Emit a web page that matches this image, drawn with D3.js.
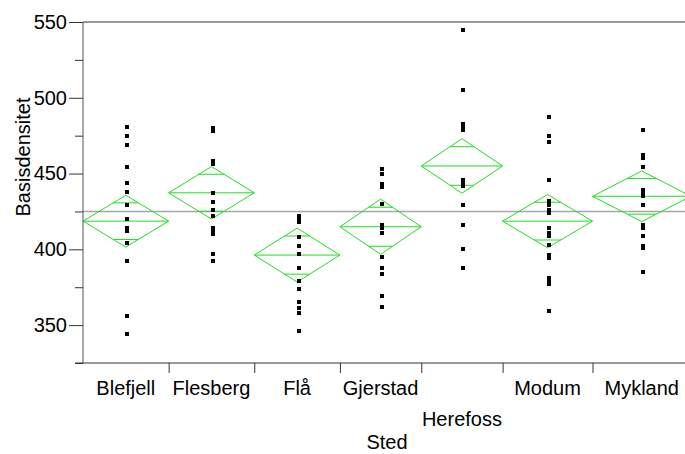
<!DOCTYPE html>
<html>
<head>
    <title></title>
    <script src="https://d3js.org/d3.v7.min.js"></script>
    <style type="text/css">
        html, body { margin: 0; padding: 0; background: #fff; }
        text { font-family: "Liberation Sans", Arial, sans-serif; fill: #000; }
    </style>
</head>
<body>
    <svg id="main"></svg>
    <script>
      // settings
      const width  = 685;
      const height = 454;
      const LEFT   = 83;
      const RIGHT  = 691;   // plot runs a bit past the picture edge
      const TOP    = 22;
      const BOTTOM = 363;
      const GREEN  = "#1ee01e";

      // data
      const sites    = ["Blefjell", "Flesberg", "Flå", "Gjerstad", "Herefoss", "Modum", "Mykland"];
      const counts   = [20, 20, 20, 19, 19, 21, 23];
      const means    = [418.6, 437.3, 396.2, 414.9, 455, 418.6, 435];
      const ciHalf   = [17.1, 17.3, 17.8, 18.2, 18, 17.6, 16.7];
      const grandMean = 425;
      const points = [
        [481, 475, 469, 454, 444, 438, 429, 420, 414, 412, 404, 392, 356, 344],
        [480, 478, 458, 456, 437, 431, 426, 422, 414, 412, 410, 397, 392],
        [422, 420, 418, 408, 402, 397, 388, 379, 374, 365, 361, 358, 346],
        [453, 450, 443, 441, 430, 416, 414, 411, 395, 388, 384, 369, 362],
        [545, 505, 483, 481, 479, 446, 444, 442, 429, 416, 400, 388],
        [487, 475, 471, 446, 432, 429, 426, 424, 414, 411, 409, 403, 396, 394, 381, 379, 377, 359],
        [479, 462, 460, 454, 439, 437, 435, 429, 416, 414, 409, 402, 401, 385]
      ];
      const majorTicks = [350, 400, 450, 500, 550];
      const minorTicks = [325, 375, 425, 475, 525];

      // group boundaries (width by sample size)
      const cum = [0];
      counts.forEach(c => cum.push(cum[cum.length - 1] + c));
      const groups = sites.map((s, i) => ({
        site: s, i: i, lo: cum[i], hi: cum[i + 1],
        mean: means[i], ci: ciHalf[i], pts: points[i]
      }));

      const x = d3.scaleLinear().domain([0, cum[cum.length - 1]]).range([LEFT, RIGHT]);
      const y = d3.scaleLinear().domain([325, 550]).range([BOTTOM, TOP]);

      const svg = d3.select("#main").attr("width", width).attr("height", height);

      // grand mean
      svg.append("line")
        .attr("x1", LEFT).attr("x2", RIGHT)
        .attr("y1", y(grandMean)).attr("y2", y(grandMean))
        .attr("stroke", "#a6a6a6").attr("stroke-width", 1.5);

      // diamonds
      const k = 1 - 1 / Math.SQRT2;
      const dg = svg.append("g").attr("fill", "none").attr("stroke", GREEN).attr("stroke-width", 1);
      groups.forEach(g => {
        const x0 = x(g.lo), x1 = x(g.hi), xc = (x0 + x1) / 2, hw = (x1 - x0) / 2;
        dg.append("path")
          .attr("d", d3.line()([[x0, y(g.mean)], [xc, y(g.mean + g.ci)], [x1, y(g.mean)], [xc, y(g.mean - g.ci)]]) + "Z");
        dg.append("line").attr("x1", x0).attr("x2", x1)
          .attr("y1", y(g.mean)).attr("y2", y(g.mean));
        [1, -1].forEach(s => {
          const v = g.mean + s * g.ci / Math.SQRT2;
          dg.append("line")
            .attr("x1", xc - hw * k).attr("x2", xc + hw * k)
            .attr("y1", y(v)).attr("y2", y(v));
        });
      });

      // points
      groups.forEach(g => {
        const xc = (x(g.lo) + x(g.hi)) / 2;
        svg.append("g").selectAll("rect")
          .data(g.pts)
          .enter()
          .append("rect")
          .attr("x", xc - 0.5)
          .attr("y", d => y(d) - 2)
          .attr("width", 4).attr("height", 4)
          .attr("fill", "#000")
          .attr("shape-rendering", "crispEdges");
      });

      // frame
      svg.append("line").attr("x1", LEFT).attr("x2", width)
        .attr("y1", TOP).attr("y2", TOP).attr("stroke", "#333");

      // y axis
      const yAxis = svg.append("g").attr("transform", `translate(${LEFT},0)`)
        .call(d3.axisLeft(y).tickValues(majorTicks).tickSize(14).tickPadding(2).tickFormat(d3.format("d")));
      yAxis.select(".domain").remove();
      yAxis.selectAll("text").style("font-size", "20px").attr("fill", "#000");
      yAxis.selectAll("line").attr("stroke", "#333");
      const yMinor = svg.append("g").attr("transform", `translate(${LEFT},0)`)
        .call(d3.axisLeft(y).tickValues(minorTicks).tickSize(8).tickFormat(""));
      yMinor.select(".domain").remove();
      yMinor.selectAll("line").attr("stroke", "#333");
      svg.append("line").attr("x1", LEFT).attr("x2", LEFT)
        .attr("y1", TOP).attr("y2", BOTTOM).attr("stroke", "#555");

      // x axis
      const xAxis = svg.append("g").attr("transform", `translate(0,${BOTTOM})`)
        .call(d3.axisBottom(x).tickValues(cum.slice(1, -1)).tickSize(10).tickFormat(""));
      xAxis.select(".domain").remove();
      xAxis.selectAll("line").attr("stroke", "#333");
      svg.append("line").attr("x1", LEFT - 8).attr("x2", width)
        .attr("y1", BOTTOM).attr("y2", BOTTOM).attr("stroke", "#333");

      // category labels, drop to a second row when they would collide
      let lastRight = -Infinity;
      groups.forEach(g => {
        const xc = (x(g.lo) + x(g.hi)) / 2;
        const t = svg.append("text")
          .attr("x", xc).attr("y", 395)
          .attr("text-anchor", "middle")
          .style("font-size", "20px")
          .text(g.site);
        const w = t.node().getComputedTextLength();
        if (xc - w / 2 < lastRight + 8) {
          t.attr("y", 426);
        } else {
          lastRight = xc + w / 2;
        }
      });

      // axis titles
      svg.append("text")
        .attr("x", (LEFT + RIGHT) / 2).attr("y", 449)
        .attr("text-anchor", "middle")
        .style("font-size", "20px")
        .text("Sted");
      svg.append("text")
        .attr("transform", "translate(30,157) rotate(-90)")
        .attr("text-anchor", "middle")
        .style("font-size", "20px")
        .text("Basisdensitet");
    </script>
</body>
</html>
